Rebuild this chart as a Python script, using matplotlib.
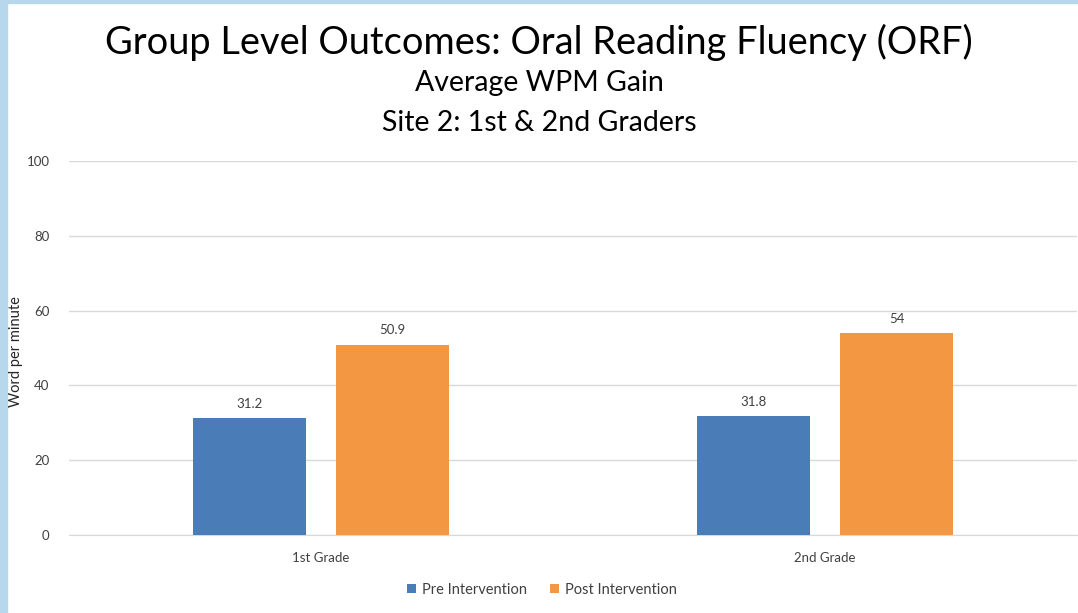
import numpy as np
import matplotlib.pyplot as plt
from matplotlib.patches import Rectangle

grades = ["1st Grade", "2nd Grade"]
pre = [31.2, 31.8]
post = [50.9, 54]
pre_labels = ["31.2", "31.8"]
post_labels = ["50.9", "54"]

plt.rcParams['font.family'] = ['Lato', 'DejaVu Sans']

fig = plt.figure(figsize=(10.78, 6.13), dpi=100)
# light blue frame on the left and top
fig.patches.append(Rectangle((0, 0), 7/1078, 1, transform=fig.transFigure, color='#B7D8EC', zorder=0))
fig.patches.append(Rectangle((0, 1 - 3/613), 1, 3/613, transform=fig.transFigure, color='#B7D8EC', zorder=0))

ax = fig.add_axes([69/1078, 1 - 535/613, 1008/1078, 374/613])
x = np.arange(len(grades))
w = 0.224
b1 = ax.bar(x - 0.142, pre, w, color='#4A7CB8', label='Pre Intervention', zorder=3)
b2 = ax.bar(x + 0.142, post, w, color='#F49742', label='Post Intervention', zorder=3)
ax.bar_label(b1, labels=pre_labels, padding=6, fontsize=9.5, color='#404040')
ax.bar_label(b2, labels=post_labels, padding=6, fontsize=9.5, color='#404040')

ax.set_xlim(-0.5, 1.5)
ax.set_ylim(0, 100)
ax.set_yticks(range(0, 101, 20))
ax.set_xticks(x)
ax.set_xticklabels(grades)
ax.tick_params(length=0, labelsize=9.5, labelcolor='#404040')
ax.tick_params(axis='y', pad=14)
ax.tick_params(axis='x', pad=12)
ax.grid(axis='y', color='#D9D9D9', linewidth=1, zorder=0)
for s in ['top', 'right', 'left']:
    ax.spines[s].set_visible(False)
ax.spines['bottom'].set_color('#D9D9D9')

# y axis title, placed by hand next to the blue strip
fig.text(16/1078, 1 - 352/613, 'Word per minute', rotation=90, ha='center', va='center',
         fontsize=10.5, color='#262626')

fig.text(0.5, 1 - 42/613, 'Group Level Outcomes: Oral Reading Fluency (ORF)', ha='center', va='center', fontsize=27.4)
fig.text(539/1078, 1 - 83/613, 'Average WPM Gain', ha='center', va='center', fontsize=20.5)
fig.text(539/1078, 1 - 123/613, 'Site 2: 1st & 2nd Graders', ha='center', va='center', fontsize=20.5)

ax.legend(loc='center', bbox_to_anchor=(0.469, -0.147), ncol=2, frameon=False, fontsize=10.5,
          handlelength=0.6, handleheight=0.6, handletextpad=0.4, columnspacing=1.6, labelcolor='#404040')

fig.savefig('out.png', dpi=100)
